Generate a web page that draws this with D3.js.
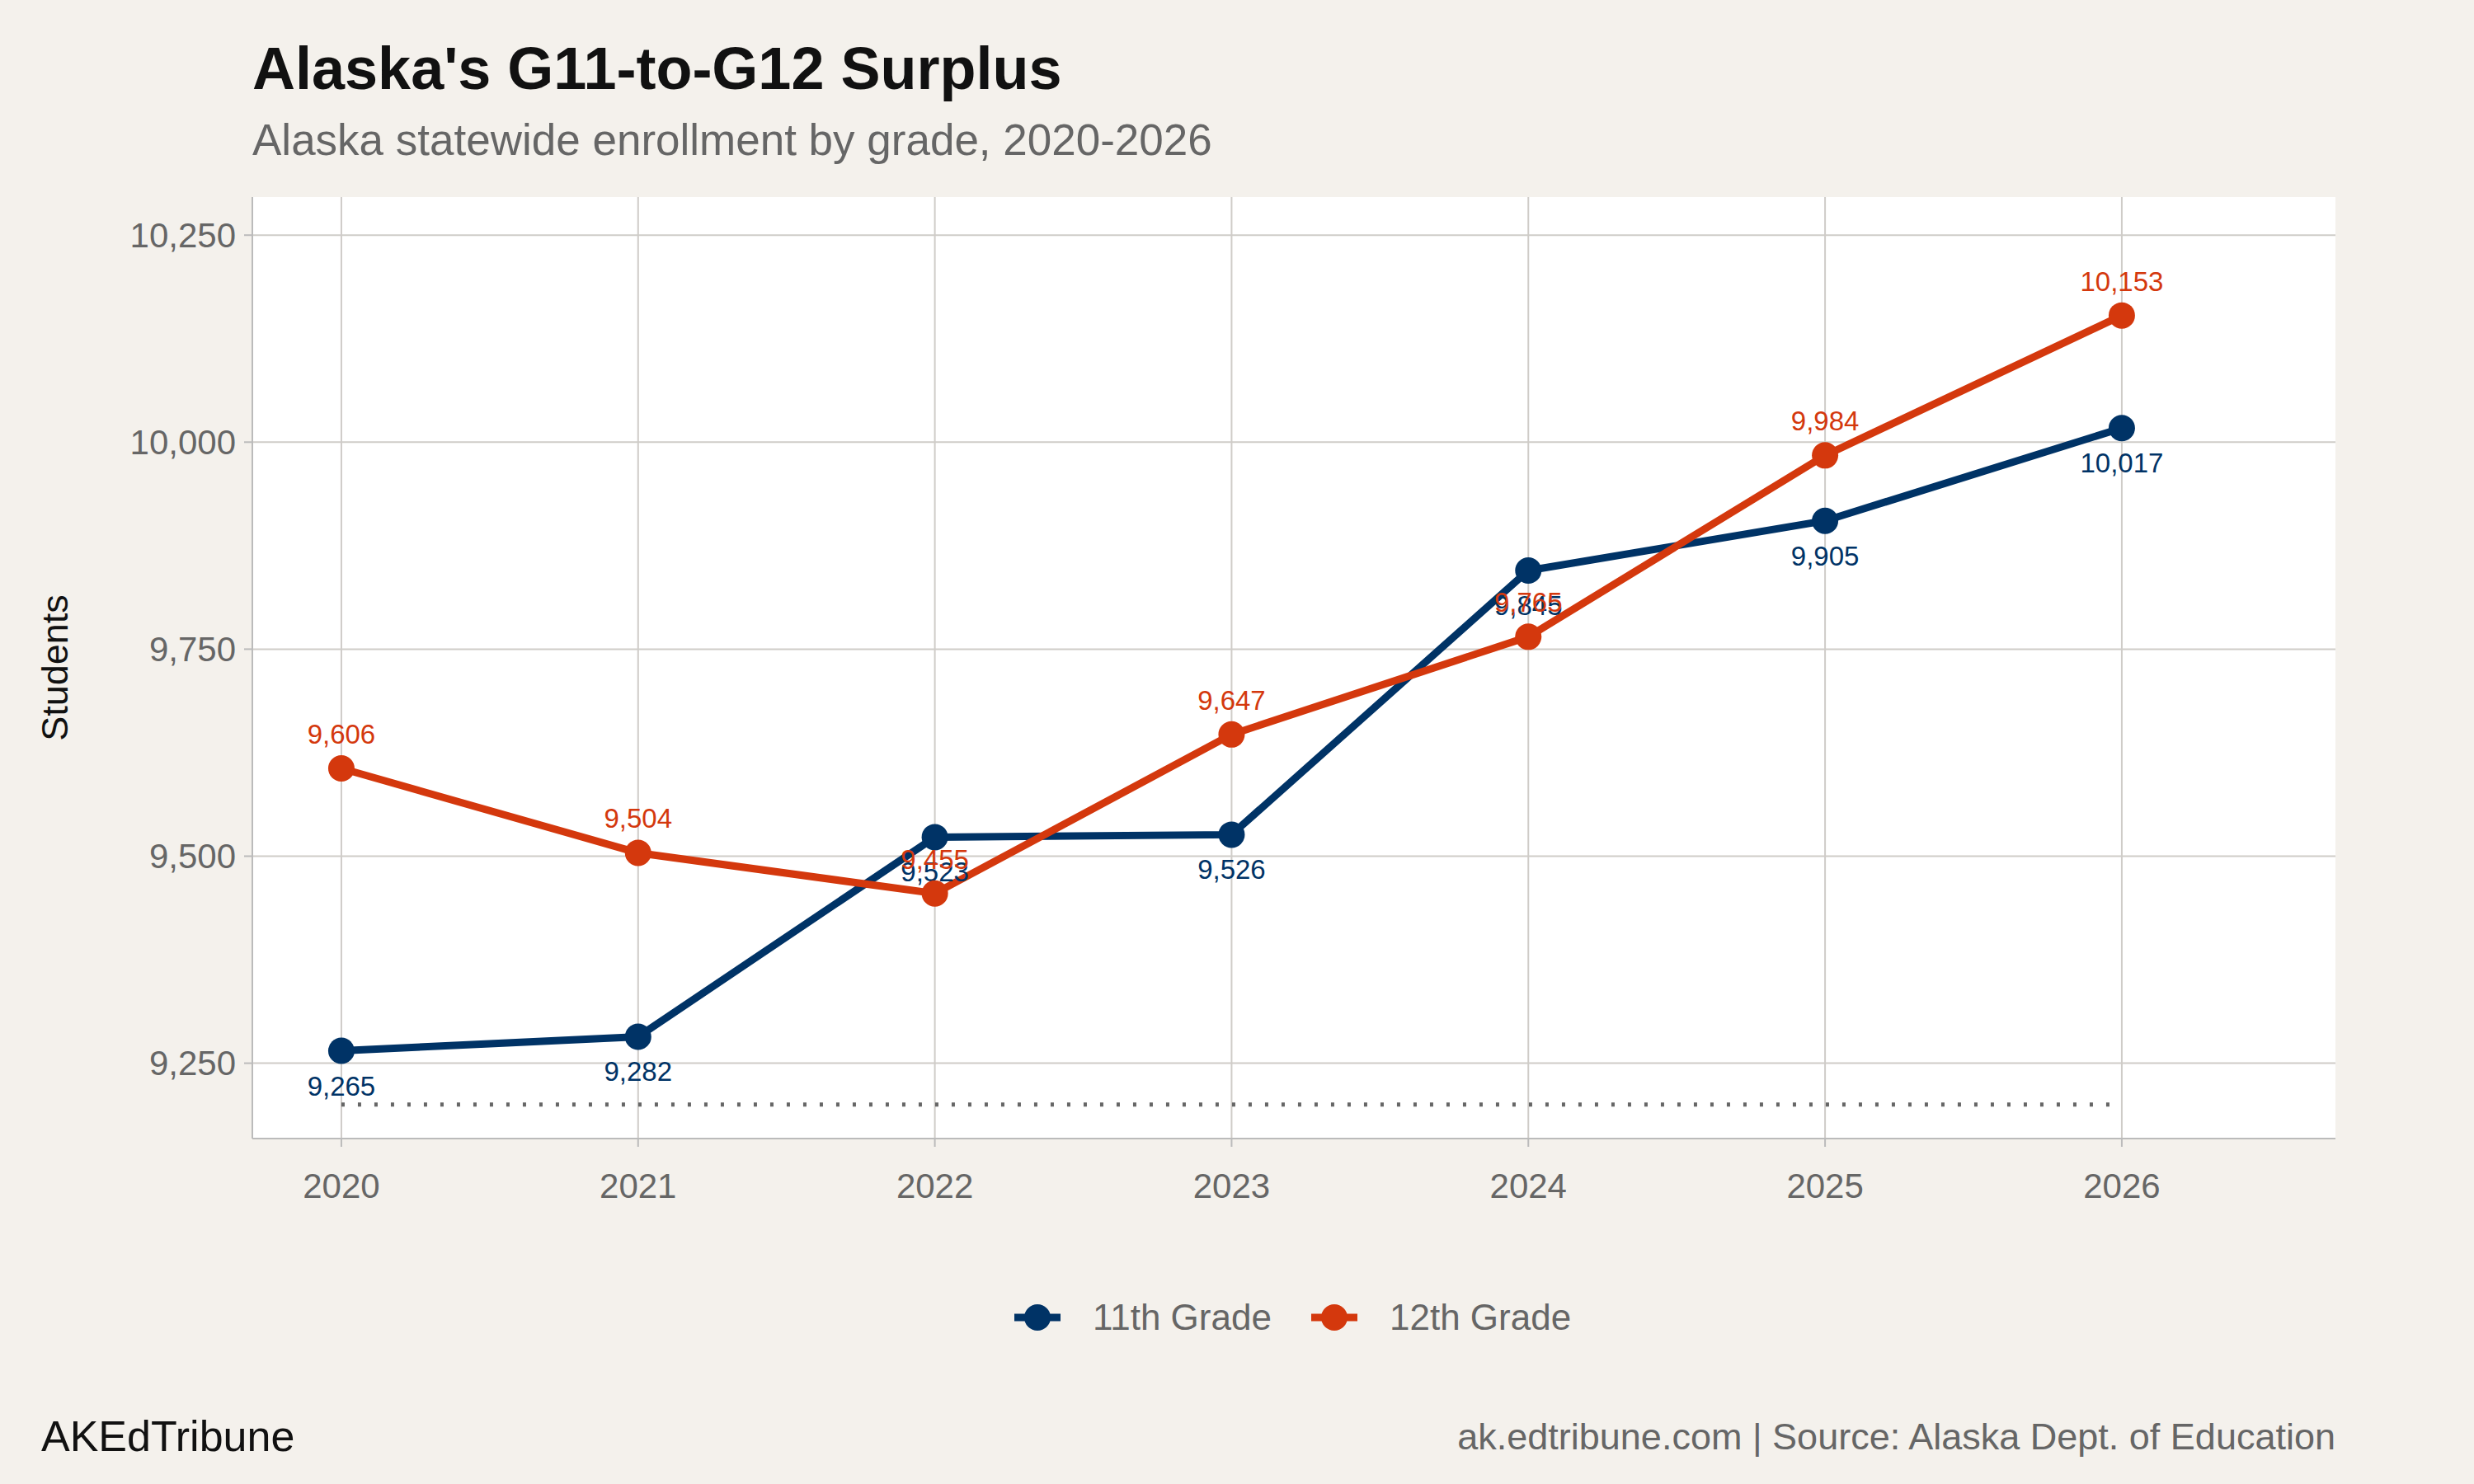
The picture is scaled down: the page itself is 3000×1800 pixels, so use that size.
<!DOCTYPE html>
<html><head><meta charset="utf-8">
<script src="https://cdn.jsdelivr.net/npm/d3@7"></script>
<style>body{margin:0;background:#f4f1ec;font-family:"Liberation Sans",Arial,sans-serif}</style>
</head><body>
<svg id="c" width="3000" height="1800"></svg>
<script>
const years=[2020,2021,2022,2023,2024,2025,2026];
const g11=[9265,9282,9523,9526,9845,9905,10017];
const g12=[9606,9504,9455,9647,9765,9984,10153];
const yTicks=[9250,9500,9750,10000,10250];
const seriesNames=["11th Grade","12th Grade"];
const colors=["#003366","#d4380d"];

const svg=d3.select("#c");
svg.append("rect").attr("width",3000).attr("height",1800).attr("fill","#f4f1ec");
const L=306,R=2832,T=239,B=1381;
const x=d3.scaleLinear().domain([2019.7,2026.72]).range([L,R]);
const y=d3.scaleLinear().domain([9159,10296]).range([B,T]);
svg.append("rect").attr("x",L).attr("y",T).attr("width",R-L).attr("height",B-T).attr("fill","#fff");
const grid="#cfccc8";
svg.append("g").selectAll("line").data(yTicks).join("line")
 .attr("x1",L).attr("x2",R).attr("y1",d=>y(d)).attr("y2",d=>y(d)).attr("stroke",grid).attr("stroke-width",2);
svg.append("g").selectAll("line").data(years).join("line")
 .attr("y1",T).attr("y2",B).attr("x1",d=>x(d)).attr("x2",d=>x(d)).attr("stroke",grid).attr("stroke-width",2);
svg.append("line").attr("x1",L).attr("x2",L).attr("y1",T).attr("y2",B).attr("stroke","#bbb").attr("stroke-width",2);
svg.append("line").attr("x1",L).attr("x2",R).attr("y1",B).attr("y2",B).attr("stroke","#bbb").attr("stroke-width",2);
svg.append("g").selectAll("line").data(yTicks).join("line").attr("x1",L-10).attr("x2",L).attr("y1",d=>y(d)).attr("y2",d=>y(d)).attr("stroke","#bbb").attr("stroke-width",2);
svg.append("g").selectAll("line").data(years).join("line").attr("y1",B).attr("y2",B+10).attr("x1",d=>x(d)).attr("x2",d=>x(d)).attr("stroke","#bbb").attr("stroke-width",2);
const fmt=d3.format(",");
svg.append("g").selectAll("text").data(yTicks).join("text").attr("x",L-20).attr("y",d=>y(d)).attr("dy","0.35em")
 .attr("text-anchor","end").attr("font-size",42).attr("fill","#666").text(fmt);
svg.append("g").selectAll("text").data(years).join("text").attr("x",d=>x(d)).attr("y",B+72)
 .attr("text-anchor","middle").attr("font-size",42).attr("fill","#666").text(d=>d);
svg.append("line").attr("x1",x(2020)).attr("x2",x(2026)).attr("y1",y(9200)).attr("y2",y(9200))
 .attr("stroke","#666").attr("stroke-width",5).attr("stroke-dasharray","4,16");
const line=d3.line().x((d,i)=>x(years[i])).y(d=>y(d));
[g11,g12].forEach((s,k)=>{
 svg.append("path").attr("d",line(s)).attr("fill","none").attr("stroke",colors[k]).attr("stroke-width",9);
});
[g11,g12].forEach((s,k)=>{
 svg.append("g").selectAll("circle").data(s).join("circle").attr("cx",(d,i)=>x(years[i])).attr("cy",d=>y(d)).attr("r",16).attr("fill",colors[k]);
 svg.append("g").selectAll("text").data(s).join("text").attr("x",(d,i)=>x(years[i])).attr("y",d=>y(d)+(k==0?54:-30))
  .attr("text-anchor","middle").attr("font-size",33).attr("fill",colors[k]).text(fmt);
});
svg.append("text").attr("x",306).attr("y",108).attr("font-size",72).attr("font-weight","bold").attr("fill","#111").text("Alaska's G11-to-G12 Surplus");
svg.append("text").attr("x",306).attr("y",188).attr("font-size",53).attr("fill","#666").text("Alaska statewide enrollment by grade, 2020-2026");
svg.append("text").attr("transform","translate(82,810) rotate(-90)").attr("text-anchor","middle").attr("font-size",45).attr("fill","#111").text("Students");
seriesNames.forEach((n,k)=>{
 const x0=k==0?1230:1590;
 svg.append("line").attr("x1",x0).attr("x2",x0+56).attr("y1",1598).attr("y2",1598).attr("stroke",colors[k]).attr("stroke-width",9);
 svg.append("circle").attr("cx",x0+28).attr("cy",1598).attr("r",16).attr("fill",colors[k]);
 svg.append("text").attr("x",x0+95).attr("y",1598).attr("dy","0.35em").attr("font-size",44).attr("fill","#666").text(n);
});
svg.append("text").attr("x",50).attr("y",1760).attr("font-size",52).attr("fill","#111").text("AKEdTribune");
svg.append("text").attr("x",2832).attr("y",1758).attr("text-anchor","end").attr("font-size",45).attr("fill","#666").text("ak.edtribune.com | Source: Alaska Dept. of Education");
</script></body></html>
